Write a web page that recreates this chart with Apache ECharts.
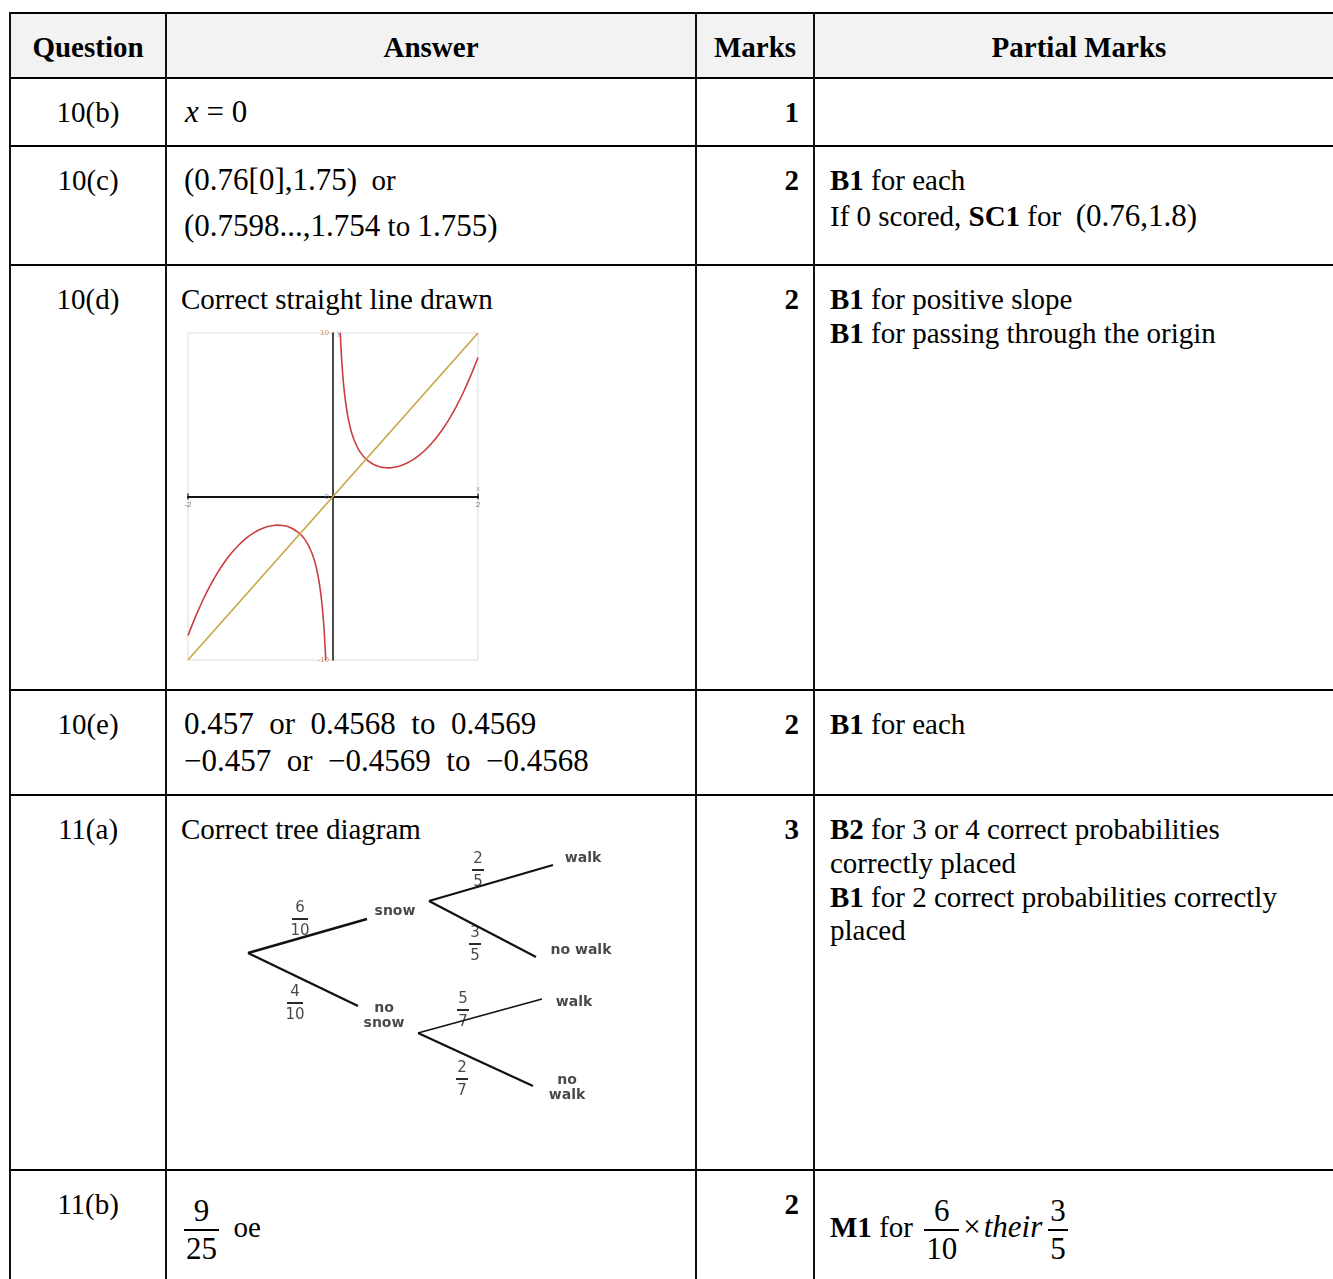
<!DOCTYPE html>
<html>
<head>
<meta charset="utf-8">
<script src="https://cdn.jsdelivr.net/npm/echarts@6/dist/echarts.min.js"></script>
<style>
    body { margin:0; background:#fff; }
    #page { position:relative; width:1333px; height:1279px; overflow:hidden;
            font-family:"Liberation Serif","Times New Roman",serif; color:#000; }
    .hl { position:absolute; left:10px; width:1323px; height:2px; background:#000; }
    .vl { position:absolute; top:12px; height:1267px; width:2px; background:#111; }
    .t { position:absolute; font-size:29px; line-height:34px; white-space:nowrap; }
    .m { font-size:31px; }
    .b { font-weight:bold; }
    .c { text-align:center; }
    .r { text-align:right; }
    .frac { display:inline-flex; flex-direction:column; align-items:center; vertical-align:middle; font-size:31px; line-height:36px; }
    .frac .n { border-bottom:2px solid #000; padding:0 2px; }
    #graph { position:absolute; left:160px; top:315px; width:340px; height:365px; }
    #tree { position:absolute; left:230px; top:840px; width:400px; height:280px; }
</style>
</head>
<body>
<div id="page">
    <div style="position:absolute;left:10px;top:13px;width:1323px;height:65px;background:#f2f2f2;"></div>

    <div class="hl" style="top:12px;"></div>
    <div class="hl" style="top:77px;"></div>
    <div class="hl" style="top:145px;"></div>
    <div class="hl" style="top:264px;"></div>
    <div class="hl" style="top:689px;"></div>
    <div class="hl" style="top:794px;"></div>
    <div class="hl" style="top:1169px;"></div>
    <div class="vl" style="left:9px;"></div>
    <div class="vl" style="left:165px;"></div>
    <div class="vl" style="left:695px;"></div>
    <div class="vl" style="left:813px;"></div>

    <!-- header -->
    <div class="t b c" style="left:10px;width:156px;top:30px;">Question</div>
    <div class="t b c" style="left:166px;width:530px;top:30px;">Answer</div>
    <div class="t b c" style="left:696px;width:118px;top:30px;">Marks</div>
    <div class="t b c" style="left:814px;width:530px;top:30px;">Partial Marks</div>

    <!-- 10(b) -->
    <div class="t c" style="left:10px;width:156px;top:95px;">10(b)</div>
    <div class="t m" style="left:185px;top:95px;"><i>x</i>&nbsp;= 0</div>
    <div class="t b r" style="left:696px;width:103px;top:95px;">1</div>

    <!-- 10(c) -->
    <div class="t c" style="left:10px;width:156px;top:163px;">10(c)</div>
    <div class="t" style="left:184px;top:163px;"><span class="m">(0.76[0],1.75)</span>&nbsp; or</div>
    <div class="t" style="left:184px;top:209px;"><span class="m">(0.7598...,1.754</span> to <span class="m">1.755)</span></div>
    <div class="t b r" style="left:696px;width:103px;top:163px;">2</div>
    <div class="t" style="left:830px;top:163px;"><b>B1</b> for each</div>
    <div class="t" style="left:830px;top:199px;">If 0 scored, <b>SC1</b> for&nbsp; <span class="m">(0.76,1.8)</span></div>

    <!-- 10(d) -->
    <div class="t c" style="left:10px;width:156px;top:282px;">10(d)</div>
    <div class="t" style="left:181px;top:282px;">Correct straight line drawn</div>
    <div class="t b r" style="left:696px;width:103px;top:282px;">2</div>
    <div class="t" style="left:830px;top:282px;"><b>B1</b> for positive slope</div>
    <div class="t" style="left:830px;top:316px;"><b>B1</b> for passing through the origin</div>
    <div id="graph"></div>

    <!-- 10(e) -->
    <div class="t c" style="left:10px;width:156px;top:707px;">10(e)</div>
    <div class="t m" style="left:184px;top:707px;">0.457 &nbsp;or&nbsp; 0.4568 &nbsp;to&nbsp; 0.4569</div>
    <div class="t m" style="left:184px;top:744px;">−0.457 &nbsp;or&nbsp; −0.4569 &nbsp;to&nbsp; −0.4568</div>
    <div class="t b r" style="left:696px;width:103px;top:707px;">2</div>
    <div class="t" style="left:830px;top:707px;"><b>B1</b> for each</div>

    <!-- 11(a) -->
    <div class="t c" style="left:10px;width:156px;top:812px;">11(a)</div>
    <div class="t" style="left:181px;top:812px;">Correct tree diagram</div>
    <div class="t b r" style="left:696px;width:103px;top:812px;">3</div>
    <div class="t" style="left:830px;top:812px;"><b>B2</b> for 3 or 4 correct probabilities</div>
    <div class="t" style="left:830px;top:846px;">correctly placed</div>
    <div class="t" style="left:830px;top:880px;"><b>B1</b> for 2 correct probabilities correctly</div>
    <div class="t" style="left:830px;top:913px;">placed</div>
    <div id="tree"></div>

    <!-- 11(b) -->
    <div class="t c" style="left:10px;width:156px;top:1187px;">11(b)</div>
    <div class="t b r" style="left:696px;width:103px;top:1187px;">2</div>
    <div class="t" style="left:184px;top:1185px;line-height:84px;"><span class="frac"><span class="n">&nbsp;9&nbsp;</span><span>25</span></span>&nbsp; oe</div>
    <div class="t" style="left:830px;top:1185px;line-height:84px;"><b>M1</b> for&nbsp;<span class="frac" style="margin-left:4px;"><span class="n">&nbsp;6&nbsp;</span><span>10</span></span><span class="m" style="margin:0 3px 0 4px;">×</span><i class="m">their</i><span class="frac" style="margin-left:6px;"><span class="n">3</span><span>5</span></span></div>
</div>

<script>
    // ---- 10(d) graph: curve, two branches either side of x = 0
    let curveRightX = [0.1, 0.11, 0.12, 0.13, 0.14, 0.15, 0.17, 0.2, 0.23, 0.26, 0.3, 0.35, 0.4, 0.45, 0.5, 0.55, 0.6, 0.65, 0.7, 0.76, 0.8, 0.9, 1.0, 1.1, 1.2, 1.3, 1.4, 1.5, 1.6, 1.7, 1.8, 1.9, 2.0];
    let curveRightY = [10.0, 9.09, 8.33, 7.69, 7.15, 6.67, 5.89, 5.01, 4.36, 3.86, 3.36, 2.90, 2.56, 2.31, 2.13, 1.99, 1.88, 1.81, 1.77, 1.75, 1.76, 1.84, 2.0, 2.24, 2.56, 2.97, 3.46, 4.04, 4.72, 5.50, 6.39, 7.39, 8.5];
    let curveLeftX = [-2.0, -1.9, -1.8, -1.7, -1.6, -1.5, -1.4, -1.3, -1.2, -1.1, -1.0, -0.9, -0.8, -0.76, -0.7, -0.65, -0.6, -0.55, -0.5, -0.45, -0.4, -0.35, -0.3, -0.26, -0.23, -0.2, -0.17, -0.15, -0.14, -0.13, -0.12, -0.11, -0.1];
    let curveLeftY = [-8.5, -7.39, -6.39, -5.50, -4.72, -4.04, -3.46, -2.97, -2.56, -2.24, -2.0, -1.84, -1.76, -1.75, -1.77, -1.81, -1.88, -1.99, -2.13, -2.31, -2.56, -2.90, -3.36, -3.86, -4.36, -5.01, -5.89, -6.67, -7.15, -7.69, -8.33, -9.09, -10.0];
    let lineX = [-2, 2];
    let lineY = [-10, 10];
    // tiny axis annotations drawn at the axes
    let axisMarkText = ['-2', '2', '10', '-10', 'x', 'y', '0'];
    let axisMarkPos = [[-2, 0], [2, 0], [0, 10], [0, -10], [2, 0], [0, 10], [0, 0]];
    let axisMarkWhere = ['bottom', 'bottom', 'left', 'left', 'top', 'right', 'left'];
    let axisMarkColor = ['#555', '#555', '#c0763a', '#c0763a', '#8a9aa8', '#8a9aa8', '#777'];

    // ---- 11(a) tree diagram: nodes, branches, labels (diagram units, y downwards)
    let branches = [
        [[18, 113], [137, 79]],
        [[18, 113], [128, 166]],
        [[199, 61], [323, 25]],
        [[199, 61], [306, 117]],
        [[188, 193], [312, 159]],
        [[188, 193], [303, 246]]
    ];
    let branchWidths = [2.4, 2.4, 2.2, 2.2, 1.4, 2.2];
    let outcomeNames = ['snow', 'no\nsnow', 'walk', 'no walk', 'walk', 'no\nwalk'];
    let outcomePos = [[165, 71], [154, 176], [353, 18], [351, 110], [344, 162], [337, 248]];
    let fracNum = ['6', '4', '2', '3', '5', '2'];
    let fracDen = ['10', '10', '5', '5', '7', '7'];
    let fracPos = [[70, 79], [65, 163], [248, 30], [245, 104], [233, 170], [232, 239]];
    let fracBarHalf = [8, 8, 6, 6, 6, 6];

    function pairs(xs, ys) {
        let out = [];
        xs.forEach((x, i) => out.push([x, ys[i]]));
        return out;
    }

    let graph = echarts.init(document.getElementById('graph'));
    let curveStyle = { color: '#cc3d3f', width: 1.6 };
    graph.setOption({
        animation: false,
        grid: { left: 28, top: 18, width: 290, height: 327, show: true, borderColor: '#dcdcdc', borderWidth: 1 },
        xAxis: {
            type: 'value', min: -2, max: 2, interval: 4,
            axisLine: { onZero: true, lineStyle: { color: '#111', width: 2 } },
            axisTick: { show: false },
            axisLabel: { show: false },
            splitLine: { show: false }
        },
        yAxis: {
            type: 'value', min: -10, max: 10, interval: 20,
            axisLine: { onZero: true, lineStyle: { color: '#111', width: 1.5 } },
            axisTick: { show: false },
            axisLabel: { show: false },
            splitLine: { show: false }
        },
        series: [
            { type: 'line', data: pairs(curveRightX, curveRightY), showSymbol: false, smooth: 0.3, lineStyle: curveStyle, clip: true },
            { type: 'line', data: pairs(curveLeftX, curveLeftY), showSymbol: false, smooth: 0.3, lineStyle: curveStyle, clip: true },
            { type: 'line', data: pairs(lineX, lineY), showSymbol: false, lineStyle: { color: '#c9a443', width: 1.6 } },
            {
                type: 'scatter', symbol: 'rect', symbolSize: [1.5, 6], itemStyle: { color: '#111' },
                data: axisMarkPos.slice(0, 2),
                silent: true
            },
            {
                type: 'scatter', symbolSize: 0, silent: true,
                data: axisMarkPos.map((p, i) => ({
                    value: p,
                    label: { show: true, formatter: axisMarkText[i], position: axisMarkWhere[i], distance: 4, fontSize: 8, color: axisMarkColor[i] }
                }))
            }
        ]
    });

    let tree = echarts.init(document.getElementById('tree'));
    let hand = { fontFamily: 'DejaVu Sans', color: '#1a1a1a' };
    let seriesArr = [];
    branches.forEach((b, i) => {
        seriesArr.push({
            type: 'line', data: b, showSymbol: false,
            lineStyle: { color: '#111', width: branchWidths[i] }
        });
    });
    // fraction bars
    fracPos.forEach((p, i) => {
        seriesArr.push({
            type: 'line', showSymbol: false,
            data: [[p[0] - fracBarHalf[i], p[1]], [p[0] + fracBarHalf[i], p[1]]],
            lineStyle: { color: '#111', width: 1.8 }
        });
    });
    seriesArr.push({
        type: 'scatter', symbolSize: 0,
        data: outcomePos.map((p, i) => ({ value: p, name: outcomeNames[i] })),
        label: {
            show: true, position: 'inside', formatter: p => p.name,
            fontSize: 14, lineHeight: 15, fontWeight: 'bold', ...hand
        }
    });
    seriesArr.push({
        type: 'scatter', symbolSize: 0,
        data: fracPos.map((p, i) => ({ value: p, name: fracNum[i] })),
        label: { show: true, position: 'top', distance: 3, formatter: p => p.name, fontSize: 15, ...hand }
    });
    seriesArr.push({
        type: 'scatter', symbolSize: 0,
        data: fracPos.map((p, i) => ({ value: p, name: fracDen[i] })),
        label: { show: true, position: 'bottom', distance: 5, formatter: p => p.name, fontSize: 15, ...hand }
    });
    tree.setOption({
        animation: false,
        grid: { left: 0, top: 0, right: 0, bottom: 0 },
        xAxis: { type: 'value', min: 0, max: 400, show: false },
        yAxis: { type: 'value', min: 0, max: 280, inverse: true, show: false },
        series: seriesArr
    });
</script>
</body>
</html>
